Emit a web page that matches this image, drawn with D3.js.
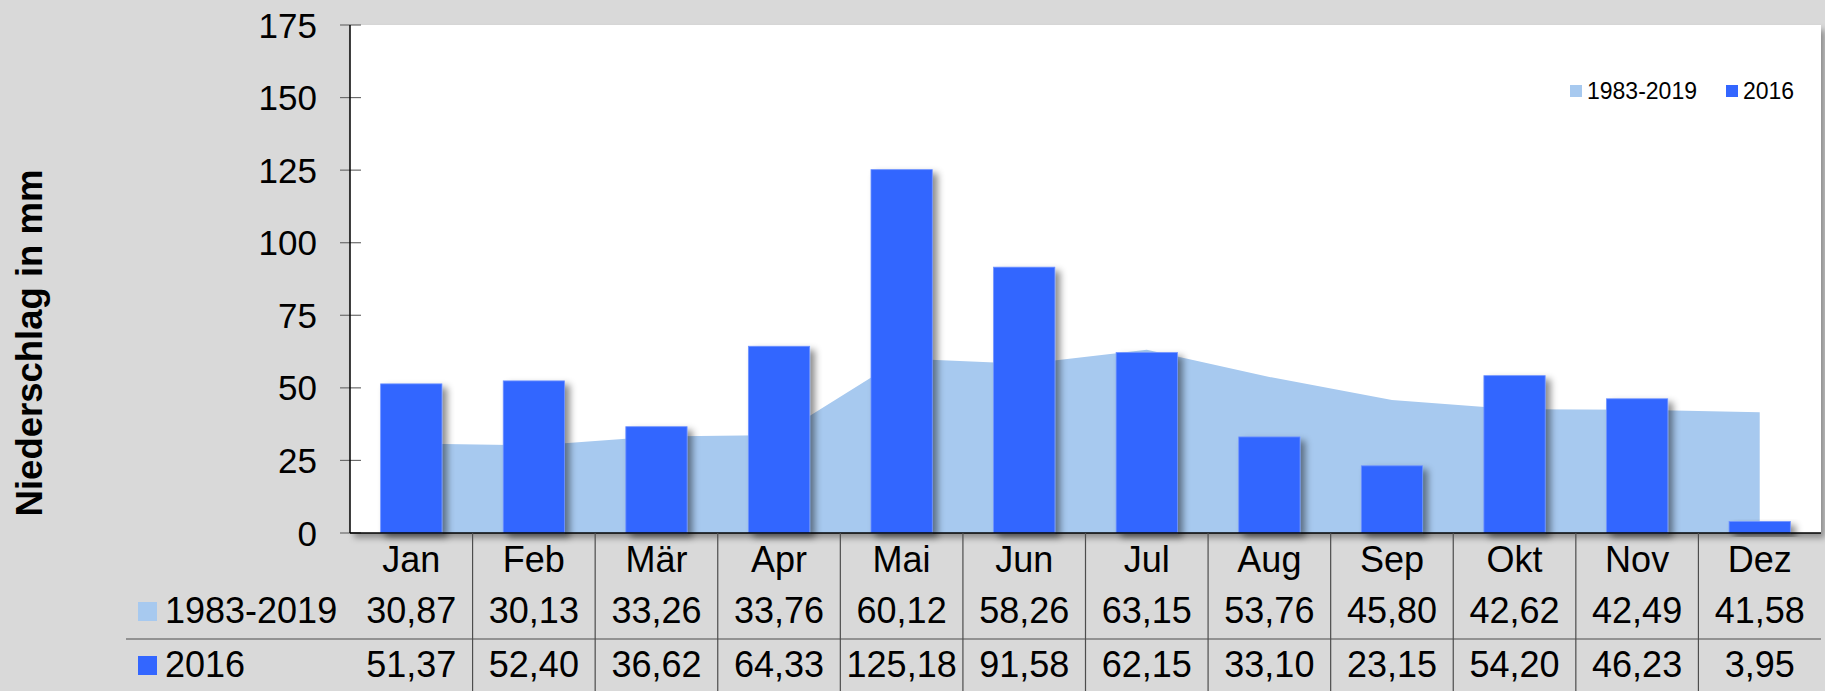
<!DOCTYPE html>
<html>
<head>
<meta charset="utf-8">
<script src="https://cdn.jsdelivr.net/npm/d3@7"></script>
<style>
  html, body { margin: 0; padding: 0; background: #d9d9d9; }
  svg { display: block; font-family: "Liberation Sans", Arial, sans-serif; }
</style>
</head>
<body>
<svg id="chart"></svg>
<script>
// data
const months = ["Jan", "Feb", "Mär", "Apr", "Mai", "Jun", "Jul", "Aug", "Sep", "Okt", "Nov", "Dez"];
const mean8319 = [30.87, 30.13, 33.26, 33.76, 60.12, 58.26, 63.15, 53.76, 45.80, 42.62, 42.49, 41.58];
const year2016 = [51.37, 52.40, 36.62, 64.33, 125.18, 91.58, 62.15, 33.10, 23.15, 54.20, 46.23, 3.95];
const yTicks = [0, 25, 50, 75, 100, 125, 150, 175];
const seriesNames = ["1983-2019", "2016"];

const W = 1825, H = 691;
const plot = { left: 350, right: 1821, top: 25, bottom: 533 };
const areaColor = "#a7c9ef";
const barColor = "#3366ff";

const svg = d3.select("#chart").attr("width", W).attr("height", H);

const defs = svg.append("defs");
function shadow(id, dx, dy, sd, op) {
  defs.append("filter")
    .attr("id", id)
    .attr("x", "-20%").attr("y", "-20%")
    .attr("width", "150%").attr("height", "150%")
    .append("feDropShadow")
    .attr("dx", dx).attr("dy", dy)
    .attr("stdDeviation", sd)
    .attr("flood-color", "#000")
    .attr("flood-opacity", op);
}
shadow("plot-shadow", 4, 5, 3, 0.35);
shadow("bar-shadow", 5, 4, 3.5, 0.45);

svg.append("rect").attr("width", W).attr("height", H).attr("fill", "#d9d9d9");

const x = d3.scaleBand().domain(months).range([plot.left, plot.right]).padding(0);
const y = d3.scaleLinear().domain([0, 175]).range([plot.bottom, plot.top]);

const locale = d3.formatLocale({ decimal: ",", thousands: ".", grouping: [3], currency: ["", "€"] });
const fmt = locale.format(".2f");

// plot area
svg.append("rect")
  .attr("x", plot.left).attr("y", plot.top)
  .attr("width", plot.right - plot.left).attr("height", plot.bottom - plot.top)
  .attr("fill", "#fff")
  .attr("filter", "url(#plot-shadow)");

// area series 1983-2019
const area = d3.area()
  .x((d, i) => x(months[i]) + x.bandwidth() / 2)
  .y0(y(0))
  .y1(d => y(d));
svg.append("path")
  .datum(mean8319)
  .attr("d", area)
  .attr("fill", areaColor);

// bars 2016
const barW = x.bandwidth() * 0.5;
svg.append("g")
  .selectAll("rect")
  .data(year2016)
  .enter()
  .append("rect")
  .attr("x", (d, i) => x(months[i]) + (x.bandwidth() - barW) / 2)
  .attr("y", d => y(d))
  .attr("width", barW)
  .attr("height", d => y(0) - y(d))
  .attr("fill", barColor)
  .attr("stroke", "#6f93ff")
  .attr("stroke-width", 0.8)
  .attr("filter", "url(#bar-shadow)");

// y axis
const yAxis = svg.append("g");
yAxis.selectAll("line.tick")
  .data(yTicks)
  .enter()
  .append("line")
  .attr("class", "tick")
  .attr("x1", plot.left - 10).attr("x2", plot.left + 11)
  .attr("y1", d => y(d)).attr("y2", d => y(d))
  .attr("stroke", "#6b6b6b").attr("stroke-width", 1.2);
yAxis.selectAll("text")
  .data(yTicks)
  .enter()
  .append("text")
  .attr("x", 317)
  .attr("y", d => y(d))
  .attr("dy", "0.36em")
  .attr("text-anchor", "end")
  .attr("font-size", 35)
  .attr("fill", "#000")
  .text(d => d);
svg.append("line")
  .attr("x1", plot.left).attr("x2", plot.left)
  .attr("y1", plot.top).attr("y2", plot.bottom)
  .attr("stroke", "#000").attr("stroke-width", 1.5);
svg.append("line")
  .attr("x1", plot.left).attr("x2", plot.right)
  .attr("y1", plot.bottom).attr("y2", plot.bottom)
  .attr("stroke", "#000").attr("stroke-width", 1.5);

// y title
svg.append("text")
  .attr("transform", "translate(42," + 343 + ") rotate(-90)")
  .attr("text-anchor", "middle")
  .attr("font-size", 36.5)
  .attr("font-weight", "bold")
  .attr("fill", "#000")
  .text("Niederschlag in mm");

// legend inside plot
const legend = svg.append("g");
const legendX = [1570, 1726];
seriesNames.forEach((name, i) => {
  legend.append("rect")
    .attr("x", legendX[i]).attr("y", 85)
    .attr("width", 12).attr("height", 12)
    .attr("fill", i === 0 ? areaColor : barColor);
  legend.append("text")
    .attr("x", legendX[i] + 17).attr("y", 99)
    .attr("font-size", 23)
    .attr("fill", "#000")
    .text(name);
});

// data table below
const table = svg.append("g");
table.selectAll("line.sep")
  .data(months.slice(1))
  .enter()
  .append("line")
  .attr("class", "sep")
  .attr("x1", d => x(d)).attr("x2", d => x(d))
  .attr("y1", plot.bottom).attr("y2", H)
  .attr("stroke", "#4d4d4d").attr("stroke-width", 1.2);
table.append("line")
  .attr("x1", 126).attr("x2", plot.right)
  .attr("y1", 639).attr("y2", 639)
  .attr("stroke", "#4d4d4d").attr("stroke-width", 1.2);

table.selectAll("text.month")
  .data(months)
  .enter()
  .append("text")
  .attr("class", "month")
  .attr("x", d => x(d) + x.bandwidth() / 2)
  .attr("y", 572)
  .attr("text-anchor", "middle")
  .attr("font-size", 36)
  .text(d => d);

const rows = [
  { name: seriesNames[0], values: mean8319, color: areaColor, base: 623, key: 602 },
  { name: seriesNames[1], values: year2016, color: barColor, base: 677, key: 656 }
];
rows.forEach(r => {
  table.append("rect")
    .attr("x", 138).attr("y", r.key)
    .attr("width", 19).attr("height", 19)
    .attr("fill", r.color);
  table.append("text")
    .attr("x", 165).attr("y", r.base)
    .attr("font-size", 36)
    .text(r.name);
  table.selectAll(null)
    .data(r.values)
    .enter()
    .append("text")
    .attr("x", (d, i) => x(months[i]) + x.bandwidth() / 2)
    .attr("y", r.base)
    .attr("text-anchor", "middle")
    .attr("font-size", 36)
    .text(d => fmt(d));
});
</script>
</body>
</html>
